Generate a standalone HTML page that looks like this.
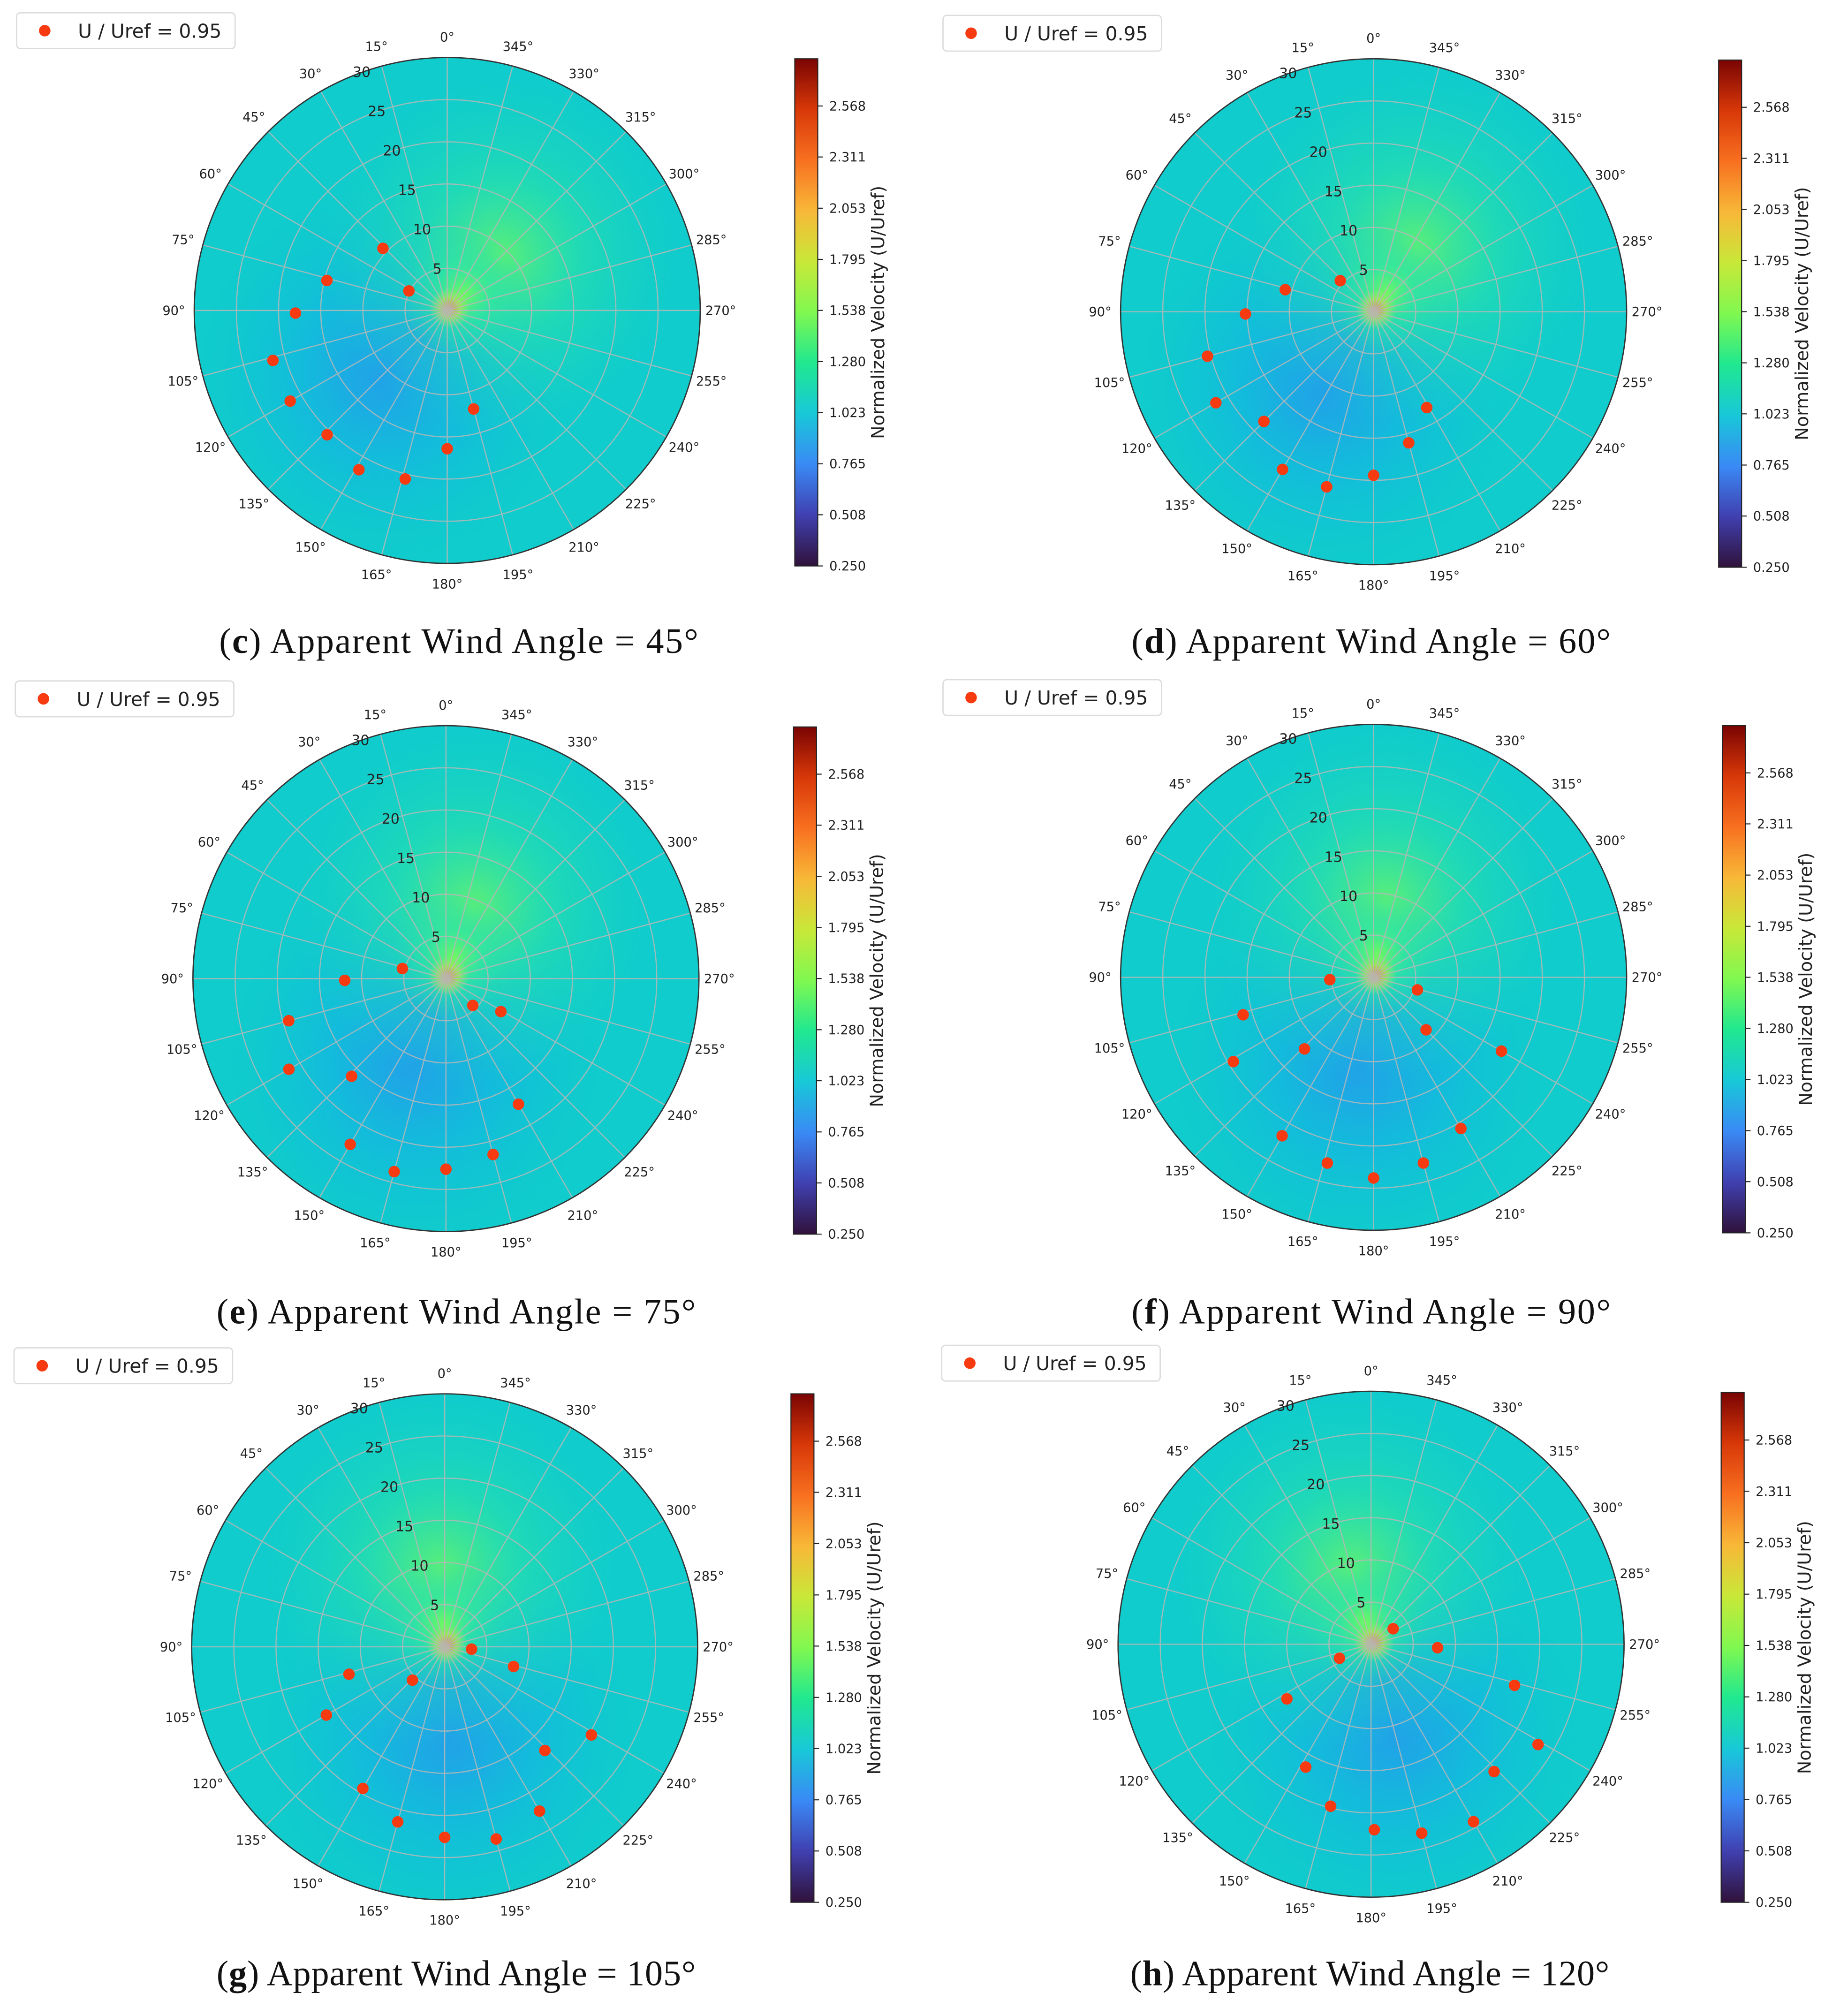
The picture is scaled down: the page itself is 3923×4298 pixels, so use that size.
<!DOCTYPE html>
<html><head><meta charset="utf-8"><style>
html,body{margin:0;padding:0;background:#fff;}
svg{display:block;}
</style></head><body>
<svg id="fig" xmlns="http://www.w3.org/2000/svg" width="3923" height="4298" viewBox="0 0 1440 1578" preserveAspectRatio="none">
<defs>
<linearGradient id="turbo" x1="0" y1="1" x2="0" y2="0">
<stop offset="0" stop-color="#30123b"/><stop offset="0.1" stop-color="#4040b0"/>
<stop offset="0.2" stop-color="#3a8af5"/><stop offset="0.3" stop-color="#18c8d8"/>
<stop offset="0.4" stop-color="#20e890"/><stop offset="0.5" stop-color="#80f850"/>
<stop offset="0.6" stop-color="#c8e838"/><stop offset="0.7" stop-color="#f8b838"/>
<stop offset="0.8" stop-color="#f87020"/><stop offset="0.9" stop-color="#d83808"/>
<stop offset="1" stop-color="#7a0403"/>
</linearGradient>
<radialGradient id="blueG"><stop offset="0" stop-color="#2a90f2" stop-opacity="0.95"/><stop offset="0.5" stop-color="#14acea" stop-opacity="0.5"/><stop offset="1" stop-color="#10c0d8" stop-opacity="0"/></radialGradient>
<radialGradient id="greenG"><stop offset="0" stop-color="#70f860" stop-opacity="1"/><stop offset="0.45" stop-color="#30e8a0" stop-opacity="0.6"/><stop offset="1" stop-color="#20d8b8" stop-opacity="0"/></radialGradient>
<radialGradient id="hotG"><stop offset="0" stop-color="#f07040" stop-opacity="0.9"/><stop offset="0.5" stop-color="#d0e040" stop-opacity="0.6"/><stop offset="1" stop-color="#a0f060" stop-opacity="0"/></radialGradient>
</defs>
</svg>
<script>
// ---- data ----
const panelLetters = ['c','d','e','f','g','h'];
const windAngles = [45, 60, 75, 90, 105, 120];
const cbTicks = [0.250, 0.508, 0.765, 1.023, 1.280, 1.538, 1.795, 2.053, 2.311, 2.568];
const cbMin = 0.25, cbMax = 2.806;
const rTicks = [5, 10, 15, 20, 25, 30];
const rMax = 30;
const thetaC = [46, 76, 63, 91, 106, 120, 136, 151, 166, 180, 195];
const rC     = [10.6, 14.7, 5.1, 18, 21.5, 21.5, 20.5, 21.6, 20.6, 16.4, 12.1];
const thetaD = [47, 76, 91, 105, 120, 135, 150, 165, 180, 195, 209];
const rD     = [5.4, 10.8, 15.2, 20.4, 21.6, 18.4, 21.6, 21.5, 19.4, 16.1, 13];
const thetaE = [77, 91, 105, 120, 136, 150, 165, 180, 195, 210, 239, 225];
const rE     = [5.3, 12, 19.3, 21.5, 16.1, 22.7, 23.7, 22.6, 21.6, 17.2, 7.6, 4.5];
const thetaF = [93, 106, 121, 136, 150, 166, 180, 195, 210, 225, 240, 254];
const rF     = [5.2, 16.1, 19.4, 11.8, 21.7, 22.7, 23.8, 22.8, 20.7, 8.8, 17.5, 5.4];
const thetaG = [265, 254, 239, 224, 210, 195, 180, 165, 150, 136, 120, 106];
const rG     = [3.2, 8.5, 20.3, 17.1, 22.5, 23.6, 22.6, 21.5, 19.4, 5.5, 16.2, 11.8];
const thetaH = [305, 267, 254, 239, 224, 210, 195, 181, 166, 152, 123, 114];
const rH     = [3.2, 7.9, 17.7, 23.1, 21, 24.3, 23.2, 22, 19.8, 16.5, 11.9, 4.1];
const seriesTheta = [thetaC, thetaD, thetaE, thetaF, thetaG, thetaH];
const seriesR = [rC, rD, rE, rF, rG, rH];

// ---- layout ----
const layout = [
 {cx:350, cy:243, cbx:622, cby0:46, cby1:443, lgx:13, lgy:10, capx:359, capy:511},
 {cx:1075, cy:244, cbx:1345, cby0:47, cby1:444, lgx:738, lgy:12, capx:1073, capy:511},
 {cx:349, cy:766, cbx:621, cby0:569, cby1:966, lgx:12, lgy:533, capx:357, capy:1036},
 {cx:1075, cy:765, cbx:1348, cby0:568, cby1:965, lgx:738, lgy:532, capx:1073, capy:1036},
 {cx:348, cy:1289, cbx:619, cby0:1091, cby1:1489, lgx:11, lgy:1055, capx:357, capy:1554},
 {cx:1073, cy:1287, cbx:1347, cby0:1090, cby1:1489, lgx:737, lgy:1053, capx:1072, capy:1554}
];
const R = 198;
const NS = 'http://www.w3.org/2000/svg';
const svg = document.getElementById('fig');
function mk(tag, attrs, parent){const e=document.createElementNS(NS,tag);for(const k in attrs)e.setAttribute(k,attrs[k]);(parent||svg).appendChild(e);return e;}
function rScale(v){return v/rMax*R;}
function polar(cx,cy,th,d){const a=th*Math.PI/180;return [cx-d*Math.sin(a), cy-d*Math.cos(a)];}

panelLetters.forEach((L,i)=>{
  const p=layout[i];
  const g=mk('g',{});
  
  
  const clipId='clip'+L;
  const cp=mk('clipPath',{id:clipId},g); mk('circle',{cx:p.cx,cy:p.cy,r:R},cp);
  const hm=mk('g',{'clip-path':'url(#'+clipId+')'},g);
  
  
  mk('circle',{cx:p.cx,cy:p.cy,r:R,fill:'#10cccc'},hm);
  const gDir = 315 + (windAngles[i]-45)*0.8;
  const bDir = gDir + 180;
  let [bx,by]=polar(p.cx,p.cy,bDir,70);
  mk('ellipse',{cx:bx,cy:by,rx:150,ry:150,fill:'url(#blueG)',opacity:0.85},hm);
  let [bx2,by2]=polar(p.cx,p.cy,bDir,25);
  mk('circle',{cx:bx2,cy:by2,r:70,fill:'url(#blueG)',opacity:0.6},hm);
  let [gx,gy]=polar(p.cx,p.cy,gDir,60);
  mk('circle',{cx:gx,cy:gy,r:140,fill:'url(#greenG)',opacity:0.8},hm);
  let [gx2,gy2]=polar(p.cx,p.cy,gDir,18);
  mk('circle',{cx:gx2,cy:gy2,r:50,fill:'url(#greenG)'},hm);
  mk('circle',{cx:p.cx+2,cy:p.cy-2,r:16,fill:'url(#hotG)'},hm);
  // grid
  const grid=mk('g',{stroke:'#b8b8b8','stroke-width':0.9,fill:'none',opacity:0.85},g);
  
  
  rTicks.slice(0,-1).forEach(v=>mk('circle',{cx:p.cx,cy:p.cy,r:rScale(v)},grid));
  for(let t=0;t<360;t+=15){const [x,y]=polar(p.cx,p.cy,t,R);mk('line',{x1:p.cx,y1:p.cy,x2:x,y2:y},grid);}
  mk('circle',{cx:p.cx,cy:p.cy,r:R,fill:'none',stroke:'#333','stroke-width':1},g);
  // angle labels
  for(let t=0;t<360;t+=15){
    const [x,y]=polar(p.cx,p.cy,t,R+16);
    const tx=mk('text',{x:x,y:y+3.5,'text-anchor':'middle','font-family':'DejaVu Sans, sans-serif','font-size':10,fill:'#222'},g);
    tx.textContent=t+'°';
    
    
  }
  rTicks.forEach(v=>{
    const [x,y]=polar(p.cx,p.cy,21,rScale(v));
    const tx=mk('text',{x:x+4,y:y+2,'text-anchor':'middle','font-family':'DejaVu Sans, sans-serif','font-size':11,fill:'#222'},g);
    tx.textContent=v;
    
    
  });
  // points
  const th=seriesTheta[i], rr=seriesR[i];
  th.forEach((t,k)=>{
    const [x,y]=polar(p.cx,p.cy,t,rScale(rr[k]));
    const c=mk('circle',{cx:x,cy:y,r:4.5,fill:'#f83a10'},g);
    
    
  });
  // legend
  const lg=mk('g',{},g);
  
  
  mk('rect',{x:p.lgx,y:p.lgy,width:171,height:28,rx:3,fill:'#fff',stroke:'#dcdcdc','stroke-width':1},lg);
  mk('circle',{cx:p.lgx+22,cy:p.lgy+14,r:4.5,fill:'#f83a10'},lg);
  const lt=mk('text',{x:p.lgx+48,y:p.lgy+19.5,'font-family':'DejaVu Sans, sans-serif','font-size':15,fill:'#222'},lg);
  lt.textContent='U / Uref = 0.95';
  // colorbar
  const cb=mk('g',{},g);
  
  
  mk('rect',{x:p.cbx,y:p.cby0,width:18,height:p.cby1-p.cby0,fill:'url(#turbo)',stroke:'#222','stroke-width':0.8},cb);
  const cy=v=>p.cby1-(v-cbMin)/(cbMax-cbMin)*(p.cby1-p.cby0);
  cbTicks.forEach(v=>{
    const y=cy(v);
    mk('line',{x1:p.cbx+18,y1:y,x2:p.cbx+22,y2:y,stroke:'#222','stroke-width':0.8},cb);
    const t=mk('text',{x:p.cbx+27,y:y+3.5,'font-family':'DejaVu Sans, sans-serif','font-size':10,fill:'#222'},cb);
    t.textContent=v.toFixed(3);
  });
  const my=(p.cby0+p.cby1)/2, lx=p.cbx+70;
  const cl=mk('text',{x:lx,y:my,transform:'rotate(-90 '+lx+' '+my+')','text-anchor':'middle','font-family':'DejaVu Sans, sans-serif','font-size':14,fill:'#222'},cb);
  cl.textContent='Normalized Velocity (U/Uref)';
  
  
  // caption
  const cap=mk('text',{x:p.capx,y:p.capy,'text-anchor':'middle','font-family':'Liberation Serif, serif','font-size':28,fill:'#111',textLength:375,lengthAdjust:'spacing'},g);
  
  
  const s1=mk('tspan',{},cap); s1.textContent='(';
  const s2=mk('tspan',{'font-weight':'bold'},cap); s2.textContent=L;
  const s3=mk('tspan',{},cap); s3.textContent=') Apparent Wind Angle = '+windAngles[i]+'°';
});
</script>
</body></html>
